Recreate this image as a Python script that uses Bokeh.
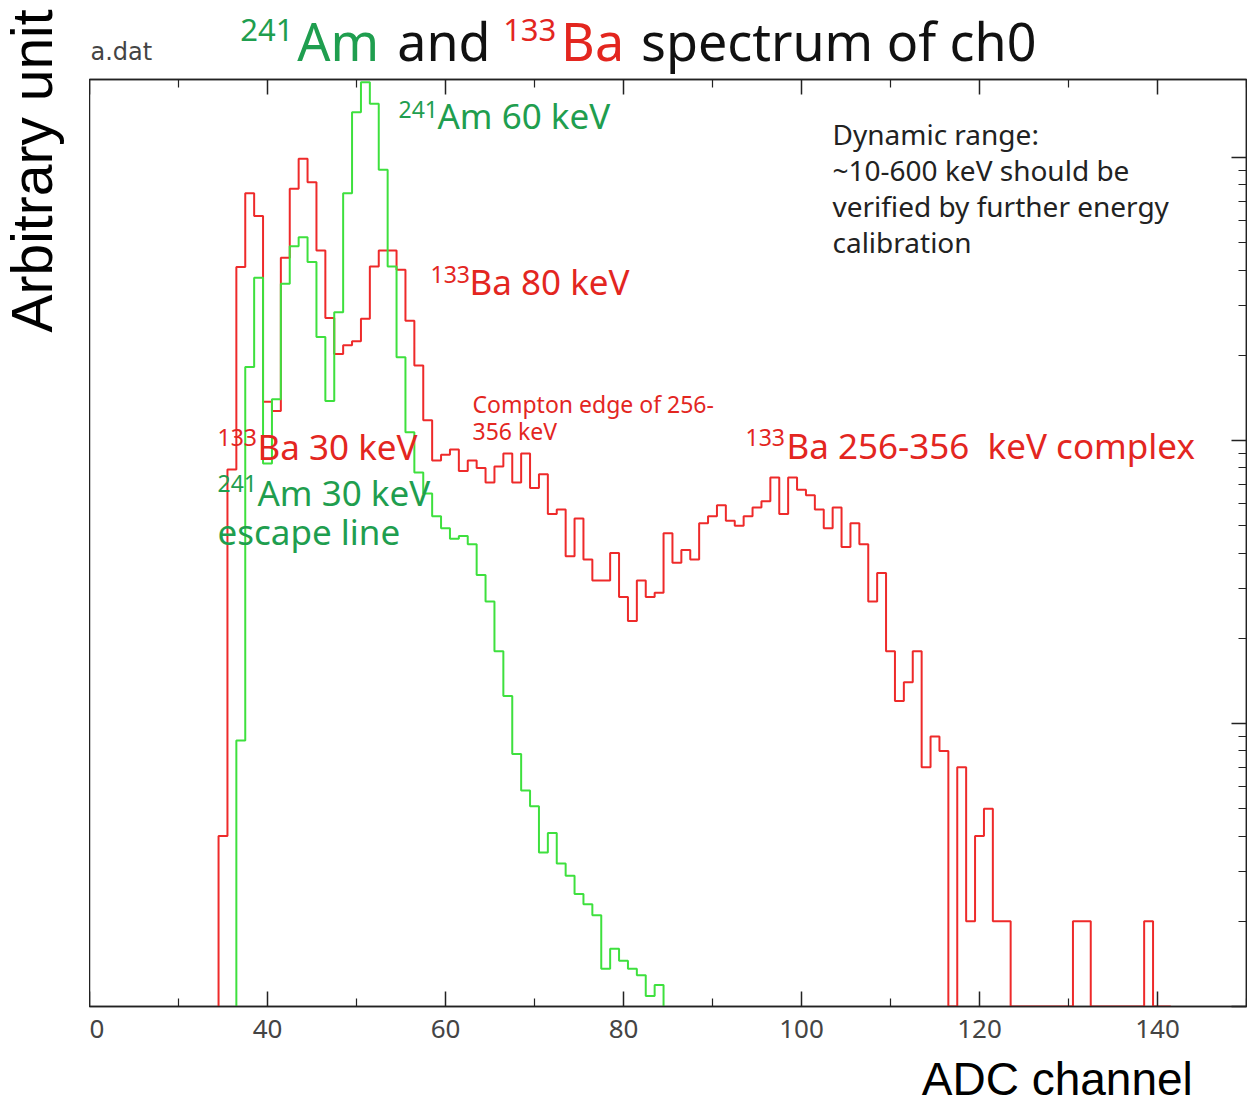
import numpy as np
from bokeh.plotting import figure
from bokeh.models import Range1d, FixedTicker, LinearAxis, Label
from bokeh.layouts import row, column
from bokeh.embed import file_html
from bokeh.resources import INLINE

# ---------------- data ----------------
red_first_bin = 35          # 133Ba spectrum, one count per ADC channel bin
red_counts = [
    4, 79, 410, 748, 621, 137, 127, 442, 775, 989,            # 35-44
    818, 469, 271, 202, 217, 224, 269, 412, 469, 469,          # 45-54
    401, 265, 184, 118, 85, 89, 93, 78, 85, 80,                # 55-64
    71, 81, 90, 71, 90, 68, 76, 55, 57, 39,                    # 65-74
    53, 38, 32, 32, 40, 28, 23, 32, 28, 29,                    # 75-84
    47, 37, 41, 38, 51, 54, 59, 52, 50, 54,                    # 85-94
    58, 61, 74, 55, 74, 67, 64, 57, 49, 58,                    # 95-104
    42, 51, 43, 27, 34, 18, 12, 14, 18, 7,                     # 105-114
    9, 8, 0, 7, 2, 4, 5, 2, 2, 0,                              # 115-124
    0, 0, 0, 0, 0, 0, 2, 2, 0, 0,                              # 125-134
    0, 0, 0, 0, 2, 0, 0,                                       # 135-141
]
green_first_bin = 37        # 241Am spectrum
green_counts = [
    8.7, 182, 376, 83, 140, 358, 486, 523, 427, 232,           # 37-46
    138, 284, 748, 1446, 1846, 1549, 905, 412, 197, 107,       # 47-56
    77, 65, 54, 49, 45, 46, 43, 33.5, 27, 18,                  # 57-66
    12.5, 7.8, 5.8, 5.1, 3.5, 4.1, 3.2, 2.9, 2.5, 2.3,         # 67-76
    2.1, 1.36, 1.6, 1.45, 1.36, 1.29, 1.09, 1.19,              # 77-84
]
x_major_ticks = [20, 40, 60, 80, 100, 120, 140]
x_minor_ticks = [30, 50, 70, 90, 110, 130, 150]
x_tick_label_overrides = {20: "0"}
y_major_ticks = [1, 10, 100, 1000]
y_minor_ticks = [m * d for d in (1, 10, 100, 1000) for m in range(2, 10)]

X_MIN, X_MAX = 20, 150
Y_MIN, Y_MAX = 1, 1886

# ---------------- layout constants ----------------
W, H = 1247, 1108
FL, FR, FT, FB = 89, 1246, 79, 1006
TOP_H = 77            # title strip height
MAIN_TOP_BORDER = FT - TOP_H
MAIN_BOTTOM_BORDER = 48
MAIN_H = MAIN_TOP_BORDER + (FB - FT) + MAIN_BOTTOM_BORDER
BOT_H = H - TOP_H - MAIN_H
DYF = 0.4             # baseline correction (fraction of font size)

RED_LINE = "#ee2a2a"
GREEN_LINE = "#3ee03e"
RED_TXT = "#e3261f"
GREEN_TXT = "#1f9e4f"
FONT = "Noto Sans"


def blank_fig(w, h, x0, x1, y_top, y_bot):
    f = figure(width=w, height=h, output_backend="svg", toolbar_location=None,
               x_range=Range1d(x0, x1), y_range=Range1d(y_bot, y_top),
               x_axis_type=None, y_axis_type=None,
               min_border_left=0, min_border_right=0, min_border_top=0,
               min_border_bottom=0)
    f.outline_line_color = None
    f.grid.visible = False
    f.background_fill_color = "white"
    f.border_fill_color = "white"
    return f


def dlab(f, text, x, base, size, color, font=FONT, angle=0.0):
    """Label in image pixel coordinates (figure ranges are image pixels)."""
    dy = DYF * size
    if angle:
        x = x - dy
    else:
        base = base - dy
    f.add_layout(Label(x=float(x), y=float(base), text=text,
                       text_font=font, text_font_size=f"{size}px",
                       text_color=color, text_align="left",
                       text_baseline="alphabetic", angle=float(angle)))


def outline(first_bin, counts):
    c = np.maximum(np.asarray(counts, dtype=float), Y_MIN)
    edges = first_bin - 0.5 + np.arange(len(c) + 1)
    xs = np.repeat(edges, 2)
    ys = np.concatenate([[Y_MIN], np.repeat(c, 2), [Y_MIN]])
    return xs, ys


# ---------------- main plot ----------------
p = figure(width=W - FL, height=MAIN_H, output_backend="svg",
           toolbar_location=None,
           x_range=Range1d(X_MIN, X_MAX), y_range=Range1d(Y_MIN, Y_MAX),
           y_axis_type="log", y_axis_location="right",
           min_border_left=0, min_border_right=W - FR,
           min_border_top=MAIN_TOP_BORDER, min_border_bottom=MAIN_BOTTOM_BORDER)
p.background_fill_color = "white"
p.border_fill_color = "white"
p.outline_line_color = "#222222"
p.outline_line_width = 1.5
p.grid.visible = False

xt = FixedTicker(ticks=x_major_ticks, minor_ticks=x_minor_ticks)
yt = FixedTicker(ticks=y_major_ticks, minor_ticks=y_minor_ticks)

bottom = p.xaxis[0]
bottom.ticker = xt
bottom.major_label_overrides = x_tick_label_overrides
bottom.major_label_text_font = FONT
bottom.major_label_text_font_size = "26px"
bottom.major_label_text_color = "#444444"
bottom.major_label_standoff = 13

top = LinearAxis(ticker=xt)
p.add_layout(top, "above")
right = p.yaxis[0]
right.ticker = yt
for ax in (bottom, top, right):
    ax.axis_line_color = "#222222"
    ax.axis_line_width = 1.5
    ax.major_tick_in = 15
    ax.major_tick_out = 0
    ax.minor_tick_in = 8
    ax.minor_tick_out = 0
    ax.major_tick_line_color = "#222222"
    ax.minor_tick_line_color = "#222222"
    ax.major_tick_line_width = 1.5
    ax.minor_tick_line_width = 1.2
for ax in (top, right):
    ax.major_label_text_font_size = "1px"
    ax.major_label_text_alpha = 0.0
    ax.major_label_standoff = 0

rx, ry = outline(red_first_bin, red_counts)
gx, gy = outline(green_first_bin, green_counts)
p.line(rx, ry, line_color=RED_LINE, line_width=2)
p.line(gx, gy, line_color=GREEN_LINE, line_width=2)


def lab(text, x_img, base_img, size, color, font=FONT):
    p.add_layout(Label(x=float(x_img - FL),
                       y=float(FB - base_img + DYF * size),
                       x_units="screen", y_units="screen", text=text,
                       text_font=font, text_font_size=f"{size}px",
                       text_color=color, text_align="left",
                       text_baseline="alphabetic"))


lab("241", 398, 118, 23, GREEN_TXT)
lab("Am 60 keV", 437, 129, 35, GREEN_TXT)
lab("133", 430, 283, 23, RED_TXT)
lab("Ba 80 keV", 469, 295, 35, RED_TXT)
lab("Compton edge of 256-", 472, 413, 23, RED_TXT)
lab("356 keV", 472, 440, 23, RED_TXT)
lab("133", 217, 446, 23, RED_TXT)
lab("Ba 30 keV", 257, 460, 35, RED_TXT)
lab("241", 217, 492, 23, GREEN_TXT)
lab("Am 30 keV", 257, 506, 35, GREEN_TXT)
lab("escape line", 217, 545, 35, GREEN_TXT)
lab("133", 745, 446, 23, RED_TXT)
lab("Ba 256-356\u00a0 keV complex", 786, 459, 35, RED_TXT)
for i, line in enumerate(["Dynamic range:", "~10-600 keV should be",
                          "verified by further energy", "calibration"]):
    lab(line, 832, 145 + 36 * i, 28, "#222222")

# ---------------- title strip ----------------
t = blank_fig(W - FL, TOP_H, FL, W, 0, TOP_H)
dlab(t, "241", 240, 42, 31, GREEN_TXT)
dlab(t, "Am", 297, 61, 52, GREEN_TXT)
dlab(t, "and", 397, 61, 52, "#111111")
dlab(t, "133", 503, 42, 31, RED_TXT)
dlab(t, "Ba", 561, 61, 52, RED_TXT)
dlab(t, "spectrum of ch0", 641, 61, 52, "#111111")
dlab(t, "a.dat", 90, 61, 24, "#444444", "DejaVu Sans")

# ---------------- left strip (y axis title) ----------------
lft = blank_fig(FL, H, 0, FL, 0, H)
dlab(lft, "Arbitrary unit", 54, 332, 57, "#000000", "Liberation Sans",
     angle=np.pi / 2)

# ---------------- bottom strip (x axis title) ----------------
y0 = TOP_H + MAIN_H
bot = blank_fig(W - FL, BOT_H, FL, W, y0, H)
dlab(bot, "ADC channel", 922, 1097, 46, "#000000", "Liberation Sans")

layout = row(lft, column(t, p, bot, spacing=0), spacing=0)
open("out.html", "w").write(file_html(layout, INLINE))
